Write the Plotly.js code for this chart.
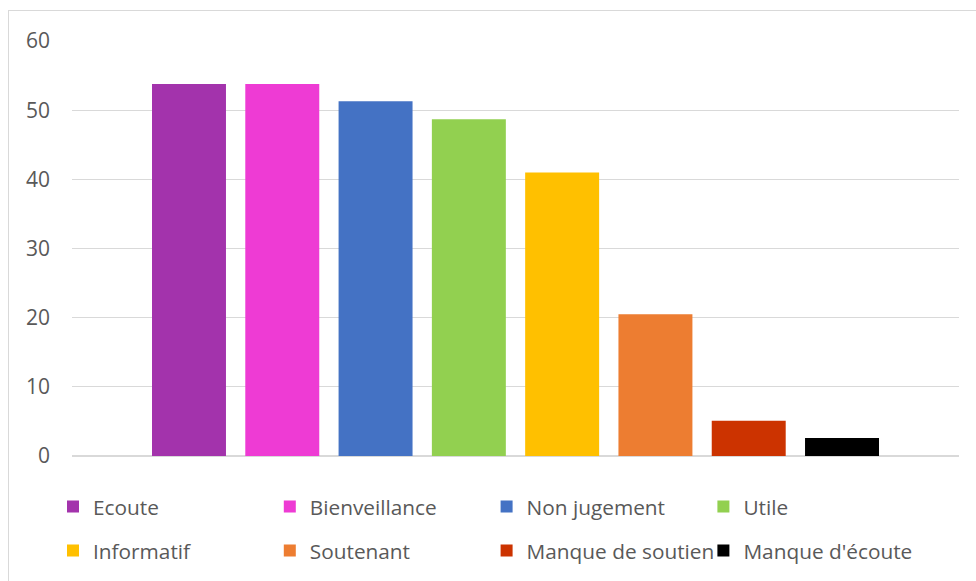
<!DOCTYPE html>
<html>
<head>
<meta charset="utf-8">
<script src="https://cdn.plot.ly/plotly-3.0.1.min.js"></script>
<style>
html,body{margin:0;padding:0;background:#fff;}
#wrap{position:relative;width:976px;height:581px;overflow:hidden;}
#chart{position:absolute;left:0;top:0;width:976px;height:581px;}
#frame{position:absolute;left:8px;top:10px;width:980px;height:600px;border:1.5px solid #D9D9D9;box-sizing:border-box;pointer-events:none;}
</style>
</head>
<body>
<div id="wrap"><div id="chart"></div><div id="frame"></div></div>
<script>
const categories = ["Ecoute", "Bienveillance", "Non jugement", "Utile", "Informatif", "Soutenant", "Manque de soutien", "Manque d'écoute"];
const values = [53.8, 53.8, 51.3, 48.7, 41.0, 20.5, 5.1, 2.6];
const colors = ["#A333AC", "#EE3BD4", "#4472C4", "#92D050", "#FFC000", "#ED7D31", "#CC3300", "#000000"];
const yTicks = [0, 10, 20, 30, 40, 50, 60];

const FONT = "Open Sans, Noto Sans, sans-serif";

const traces = categories.map((c, i) => ({
  type: "bar",
  name: c,
  x: [c],
  y: [values[i]],
  marker: {color: colors[i]},
  legend: i < 4 ? "legend" : "legend2",
  hoverinfo: "name+y"
}));

const legendCommon = {
  orientation: "h",
  xref: "container",
  yref: "container",
  xanchor: "left",
  yanchor: "middle",
  x: 53 / 976,
  entrywidth: 171.8,
  entrywidthmode: "pixels",
  font: {family: FONT, size: 20.8, color: "#595959"},
  bgcolor: "rgba(0,0,0,0)",
  itemclick: false,
  itemdoubleclick: false
};

const layout = {
  width: 976,
  height: 581,
  margin: {l: 72, r: 17, t: 40.5, b: 125, autoexpand: false},
  paper_bgcolor: "#fff",
  plot_bgcolor: "#fff",
  barmode: "overlay",
  bargap: 0.207,
  showlegend: true,
  xaxis: {
    type: "category",
    categoryorder: "array",
    categoryarray: categories,
    range: [-1.254, 8.254],
    showticklabels: false,
    showgrid: false,
    zeroline: false,
    showline: false,
    ticks: "",
    fixedrange: true
  },
  yaxis: {
    range: [0, 60],
    tickvals: yTicks,
    ticktext: yTicks.map(String),
    showgrid: true,
    gridcolor: "#D9D9D9",
    gridwidth: 1.3,
    zeroline: true,
    zerolinecolor: "#D9D9D9",
    zerolinewidth: 1.5,
    showline: false,
    ticks: "",
    ticklabelstandoff: 21,
    tickfont: {family: FONT, size: 21, color: "#595959"},
    fixedrange: true
  },
  legend: Object.assign({}, legendCommon, {y: 1 - 507 / 581}),
  legend2: Object.assign({}, legendCommon, {y: 1 - 551 / 581})
};

Plotly.newPlot("chart", traces, layout, {displayModeBar: false, staticPlot: false});
</script>
</body>
</html>
